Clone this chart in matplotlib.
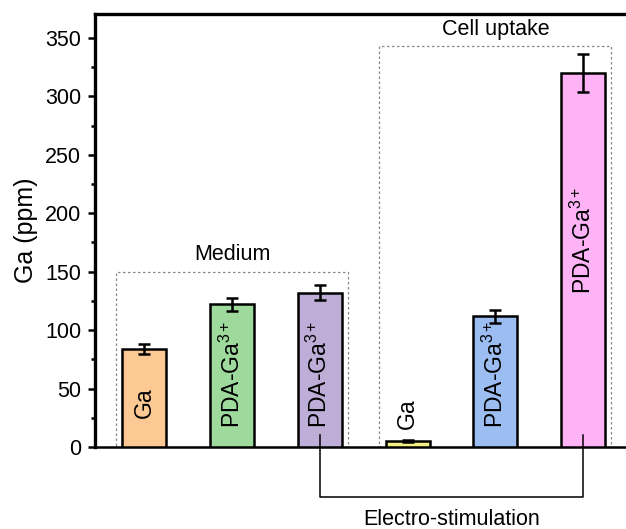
import matplotlib
matplotlib.use("Agg")
import matplotlib.pyplot as plt
from matplotlib.patches import Rectangle
from matplotlib.ticker import MultipleLocator

plt.rcParams["font.family"] = ["Liberation Sans", "DejaVu Sans"]
plt.rcParams["mathtext.fontset"] = "custom"
plt.rcParams["mathtext.rm"] = "Liberation Sans"
plt.rcParams["mathtext.it"] = "Liberation Sans:italic"
plt.rcParams["mathtext.bf"] = "Liberation Sans:bold"

# Data
labels = ["Ga", "PDA-Ga$^{\\mathregular{3+}}$", "PDA-Ga$^{\\mathregular{3+}}$",
          "Ga", "PDA-Ga$^{\\mathregular{3+}}$", "PDA-Ga$^{\\mathregular{3+}}$"]
values = [84, 122, 132, 5, 112, 320]
errors = [4.5, 5.5, 6.5, 1, 5.5, 16]
colors = ["#FCC894", "#9FDA9D", "#BEADD7", "#F2EF84", "#9CBDF1", "#FDB3F6"]
group_names = ["Medium", "Cell uptake"]
group_tops = [150, 343]
yticks = [0, 50, 100, 150, 200, 250, 300, 350]

# Label baseline heights inside the bars
label_y = [25, 16, 16, 15, 16, 131]

x = list(range(1, len(values) + 1))

fig = plt.figure(figsize=(6.26, 5.29), dpi=100)
W, H = 626, 529
ax = fig.add_axes([95 / W, (H - 447) / H, (660 - 95) / W, (447 - 14) / H])

ax.bar(x, values, width=0.5, color=colors, edgecolor="black", linewidth=1.8, zorder=3)
ax.errorbar(x, values, yerr=errors, fmt="none", ecolor="black", elinewidth=1.8,
            capsize=4, capthick=1.8, zorder=4)

for xi, lab, ly in zip(x, labels, label_y):
    ax.text(xi, ly, lab, rotation=90, ha="center", va="bottom", fontsize=16.5, zorder=5)

# Dotted group boxes
boxes = [(0.68, 3.32), (3.68, 6.32)]
for (x0, x1), top, name in zip(boxes, group_tops, group_names):
    ax.add_patch(Rectangle((x0, 0), x1 - x0, top, fill=False, edgecolor="#888888",
                           linestyle=(0, (2, 2)), linewidth=0.9, zorder=2))
    ax.text((x0 + x1) / 2, top + 5.5, name, ha="center", va="bottom", fontsize=15.5)

# Electro-stimulation bracket
bx0, bx1 = x[2], x[5]
ax.plot([bx0, bx0, bx1, bx1], [10, -42.5, -42.5, 10], color="black", linewidth=1.1,
        clip_on=False, zorder=6)
ax.text((bx0 + bx1) / 2, -53, "Electro-stimulation", ha="center", va="top", fontsize=15.5,
        clip_on=False)

ax.set_xlim(0.44, 0.44 + (660 - 95) / 87.8)
ax.set_ylim(0, 370.5)
ax.set_yticks(yticks)
ax.yaxis.set_minor_locator(MultipleLocator(25))
ax.set_xticks([])
ax.tick_params(axis="y", which="major", direction="out", length=5, width=1.8, labelsize=15.5, pad=5)
ax.tick_params(axis="y", which="minor", direction="out", length=3, width=1.8)
for s in ax.spines.values():
    s.set_linewidth(2.4)
ax.spines["bottom"].set_linewidth(1.8)
ax.set_ylabel("Ga (ppm)", fontsize=18, labelpad=5)

fig.savefig("out.png", dpi=100)
